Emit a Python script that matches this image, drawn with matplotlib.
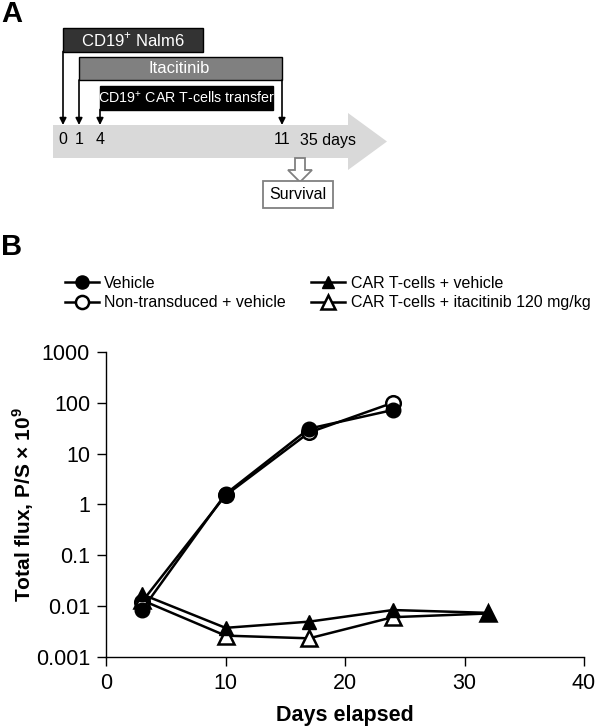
import matplotlib
matplotlib.use("Agg")
import matplotlib.pyplot as plt
from matplotlib.patches import Rectangle, Polygon

plt.rcParams['font.family'] = ['Liberation Sans', 'DejaVu Sans']
plt.rcParams['mathtext.fontset'] = 'custom'
plt.rcParams['mathtext.rm'] = 'Liberation Sans'
plt.rcParams['mathtext.bf'] = 'Liberation Sans:bold'

# ---- data ----
days_circ = [3, 10, 17, 24]
vehicle = [0.0083, 1.6, 31, 72]
nontrans = [0.012, 1.5, 26, 100]
days_tri = [3, 10, 17, 24, 32]
car_vehicle = [0.017, 0.0037, 0.0049, 0.0083, 0.0073]
car_ita = [0.013, 0.0026, 0.0023, 0.0060, 0.0071]

labels = ['Vehicle', 'Non-transduced + vehicle',
          'CAR T-cells + vehicle', 'CAR T-cells + itacitinib 120 mg/kg']
xticks = [0, 10, 20, 30, 40]
yticks = [0.001, 0.01, 0.1, 1, 10, 100, 1000]
yticklabels = ['0.001', '0.01', '0.1', '1', '10', '100', '1000']

# timeline of panel A
tl_days = ['0', '1', '4', '11']

W, H = 600, 727
fig = plt.figure(figsize=(W / 100, H / 100), dpi=100)

# ---------------- panel A (schematic, pixel coords) ----------------
axA = fig.add_axes([0, 0, 1, 1])
axA.set_xlim(0, W)
axA.set_ylim(H, 0)
axA.axis('off')

axA.text(1, 13.5, 'A', fontsize=21, fontweight='bold', va='center', ha='left')
axA.text(1, 247, 'B', fontsize=21, fontweight='bold', va='center', ha='left')

# big grey arrow
axA.add_patch(Polygon([(53, 125), (348, 125), (348, 113), (387, 141.5),
                       (348, 170), (348, 158), (53, 158)],
                      closed=True, fc='#d9d9d9', ec='none', zorder=1))

# boxes
axA.add_patch(Rectangle((63, 28), 140, 23.5, fc='#333333', ec='black', lw=1, zorder=3))
axA.text(133, 40, r'CD19$^{+}$ Nalm6', color='white', fontsize=12, ha='center', va='center', zorder=4)
axA.add_patch(Rectangle((79, 57), 203, 23, fc='#808080', ec='black', lw=1, zorder=3))
axA.text(179, 68.5, 'Itacitinib', color='white', fontsize=12, ha='center', va='center', zorder=4)
axA.add_patch(Rectangle((100, 86), 173, 23.5, fc='black', ec='black', lw=1, zorder=3))
axA.text(186, 98, r'CD19$^{+}$ CAR T-cells transfer', color='white', fontsize=10.3,
         ha='center', va='center', zorder=4)

# down arrows onto timeline
for x0, y0 in [(63, 51.5), (79, 80), (100, 109.5), (282, 80)]:
    axA.annotate('', xy=(x0, 125), xytext=(x0, y0),
                 arrowprops=dict(arrowstyle='-|>', lw=1.2, color='black',
                                 mutation_scale=10, shrinkA=0, shrinkB=0), zorder=5)

for x0, t in zip([63, 79, 100, 282], tl_days):
    axA.text(x0, 144.5, t, fontsize=11.5, ha='center', va='baseline', zorder=4)
axA.text(328, 144.5, '35 days', fontsize=11.5, ha='center', va='baseline', zorder=4)

# survival
axA.add_patch(Polygon([(295, 158), (305, 158), (305, 170), (312, 170), (300, 182),
                       (288, 170), (295, 170)], closed=True, fc='white',
                      ec='#808080', lw=1.3, zorder=3))
axA.add_patch(Rectangle((263, 181), 70, 27, fc='white', ec='#808080', lw=1.3, zorder=3))
axA.text(298, 194.5, 'Survival', fontsize=11.5, ha='center', va='center', zorder=4)

# ---------------- panel B ----------------
ax = fig.add_axes([106 / W, (H - 656.7) / H, 478 / W, 304.7 / H])
ax.patch.set_alpha(0)

lw = 1.8
ax.plot(days_circ, vehicle, '-o', color='black', lw=lw, ms=10.5, mfc='black', mec='black', label=labels[0], zorder=3)
ax.plot(days_circ, nontrans, '-o', color='black', lw=lw, ms=10.5, mfc='white', mec='black', mew=1.8, label=labels[1], zorder=2)
ax.plot(days_tri, car_ita, '-^', color='black', lw=lw, ms=11, mfc='white', mec='black', mew=1.8, label=labels[3], zorder=2)
ax.plot(days_tri, car_vehicle, '-^', color='black', lw=lw, ms=10, mfc='black', mec='black', label=labels[2], zorder=3)

ax.set_yscale('log')
ax.set_xlim(0, 40)
ax.set_ylim(0.001, 1000)
ax.set_xticks(xticks)
ax.set_yticks(yticks)
ax.set_yticklabels(yticklabels)
ax.yaxis.set_minor_locator(matplotlib.ticker.NullLocator())
ax.spines['top'].set_visible(False)
ax.spines['right'].set_visible(False)
for s in ['left', 'bottom']:
    ax.spines[s].set_linewidth(1)
ax.tick_params(axis='both', length=6.5, width=1, labelsize=15.5, pad=5)

fig.text(23 / W, 1 - 505 / H, r'Total flux, P/S × 10$^{\mathbf{9}}$', rotation=90,
         fontsize=15, fontweight='bold', ha='center', va='center')
fig.text(345 / W, 1 - 716 / H, 'Days elapsed', fontsize=15.5, fontweight='bold',
         ha='center', va='center')

h = {l.get_label(): l for l in ax.get_lines()}
fig.legend([h[labels[0]], h[labels[1]], h[labels[2]], h[labels[3]]], labels,
           loc='upper left', bbox_to_anchor=(65 / W, 1 - 276 / H), ncol=2,
           frameon=False, fontsize=11.5, handlelength=2.1, handletextpad=0.35,
           columnspacing=1.6, labelspacing=0.28, borderpad=0, borderaxespad=0,
           markerscale=0.9)

fig.savefig('out.png', dpi=100)
